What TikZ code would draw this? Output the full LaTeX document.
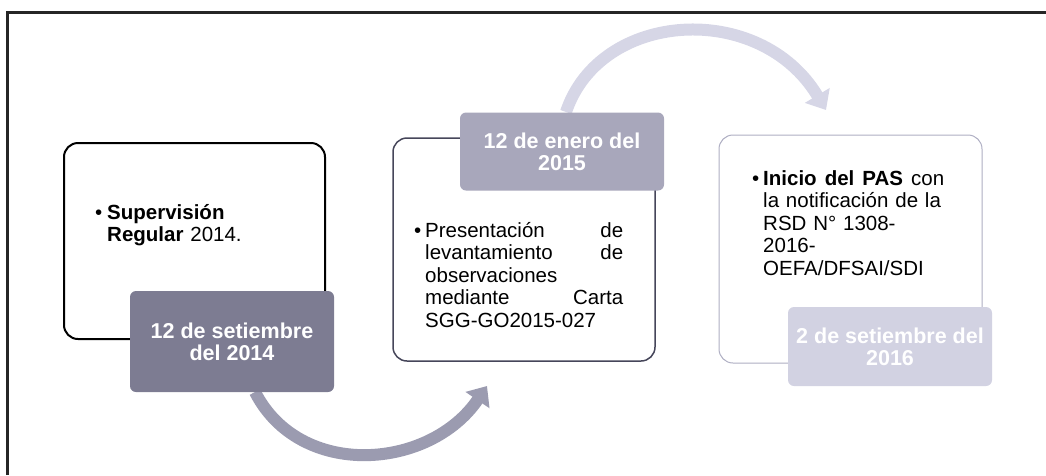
\documentclass[tikz,border=0pt]{standalone}
\usepackage{fontspec}
\setmainfont{Liberation Sans}
\usetikzlibrary{arrows.meta}
\definecolor{datedark}{RGB}{125,124,146}
\definecolor{datemid}{RGB}{168,167,187}
\definecolor{datelight}{RGB}{210,210,226}
\definecolor{flowdark}{RGB}{155,155,176}
\definecolor{flowlight}{RGB}{214,214,230}
\definecolor{edgemid}{RGB}{70,70,90}
\definecolor{edgelight}{RGB}{175,175,195}
\begin{document}
\begin{tikzpicture}[x=1pt,y=-1pt]

      \tikzset{stage/.style={draw, rounded corners=14pt, fill=white, inner sep=0pt},
               datebox/.style={rounded corners=6pt, inner sep=0pt, text=white, align=center, font=\fontsize{21.5}{22}\selectfont\bfseries},
               bullettext/.style={anchor=north west, inner sep=0pt, font=\fontsize{20.5}{22.5}\selectfont},
               flow/.style={line width=12pt, -{Triangle[length=17pt,width=28pt]}}}
      \useasboundingbox (0,0) rectangle (1046,475);
% Ramme
      \draw[line width=3pt, black!85] (7.5,475) -- (7.5,12.5) -- (1046,12.5);
% Pile
      \coordinate (a1s) at (255,392);
      \coordinate (a1e) at (487,386);
      \coordinate (a2s) at (566,112);
      \coordinate (a2e) at (826,110);
      \draw[flow, flowdark] (a1s) .. controls (300,480) and (430,470) .. (a1e);
      \draw[flow, flowlight] (a2s) .. controls (600,10) and (760,0) .. (a2e);
% Kasser
	%Trin 1
      	\node[stage, line width=2pt, draw=black, minimum width=261pt, minimum height=196pt] (box1) at (194.5,241) {};
      	\node[datebox, fill=datedark, minimum width=204pt, minimum height=101pt] (date1) at (232,341.5) {12 de setiembre\\del 2014};
      	\node[bullettext, text width=150pt, align=left] (txt1) at (107,204) {\llap{•\hspace{5pt}}\textbf{Supervisión}\\\textbf{Regular} 2014.};
	%Trin 2
      	\node[stage, line width=1.5pt, draw=edgemid, minimum width=262pt, minimum height=223pt] (box2) at (524,249.5) {};
      	\node[datebox, fill=datemid, minimum width=204pt, minimum height=78pt] (date2) at (562,151.5) {12 de enero del\\2015};
      	\node[bullettext, text width=198pt, align=left] (txt2) at (425,222) {\llap{•\hspace{4pt}}Presentación\hfill de\\levantamiento\hfill de\\observaciones\\mediante\hfill Carta\\SGG-GO2015-027};
	%Trin 3
      	\node[stage, line width=1pt, draw=edgelight, minimum width=263pt, minimum height=228pt] (box3) at (850.5,249) {};
      	\node[datebox, fill=datelight, minimum width=204pt, minimum height=79pt] (date3) at (890,346.5) {2 de setiembre del\\2016};
      	\node[bullettext, text width=181pt, align=left] (txt3) at (763,170) {\llap{•\hspace{4pt}}\textbf{Inicio}\hfill\textbf{del}\hfill\textbf{PAS}\hfill con\\la notificación de la\\RSD N° 1308-\\2016-\\OEFA/DFSAI/SDI};

	\end{tikzpicture}
\end{document}
